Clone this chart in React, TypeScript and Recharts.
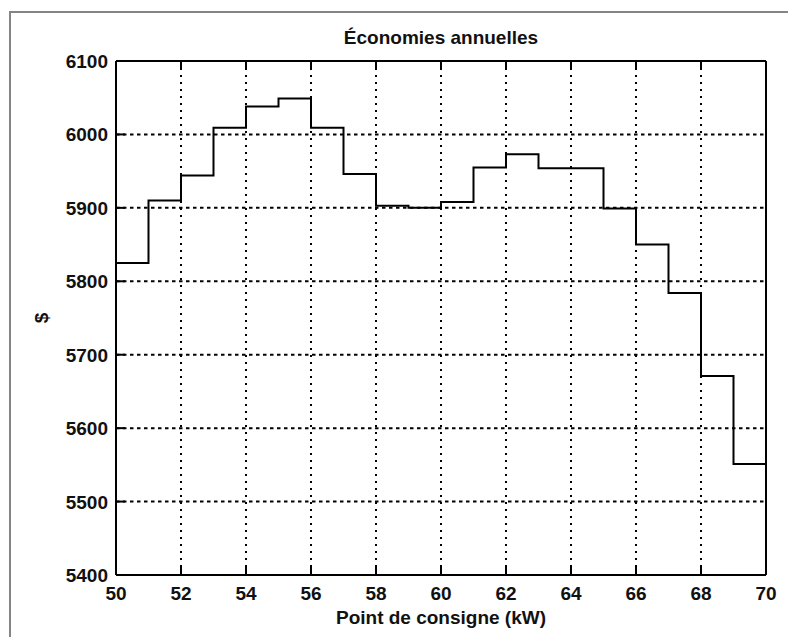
import { CartesianGrid, Line, LineChart, XAxis, YAxis } from "recharts";

const setpoints = [50, 51, 52, 53, 54, 55, 56, 57, 58, 59, 60, 61, 62, 63, 64, 65, 66, 67, 68, 69, 70];
const savings = [
  5825, 5910, 5944, 6009, 6038, 6049, 6009, 5946, 5903, 5900, 5908, 5955, 5973, 5954, 5954, 5899,
  5850, 5784, 5671, 5551, 5551
];
const xTicks = [50, 52, 54, 56, 58, 60, 62, 64, 66, 68, 70];
const yTicks = [5400, 5500, 5600, 5700, 5800, 5900, 6000, 6100];

const title = "Économies annuelles";
const xLabel = "Point de consigne (kW)";
const yLabel = "$";

const data = setpoints.map((x, i) => ({ x, value: savings[i] }));

const font = "'Liberation Sans', Arial, Helvetica, sans-serif";
const TICK = 9;
const textStyle = { fontFamily: font, fontSize: 19, fontWeight: 700, fill: "#111" } as const;

function BottomTick(props: any) {
  const { x, y, payload } = props;
  return (
    <g>
      <line x1={x} x2={x} y1={y} y2={y - TICK} stroke="#000" strokeWidth={2} />
      <text x={x} y={y + 25} textAnchor="middle" style={textStyle}>
        {payload.value}
      </text>
    </g>
  );
}

function LeftTick(props: any) {
  const { x, y, payload } = props;
  return (
    <g>
      <line x1={x} x2={x + TICK} y1={y} y2={y} stroke="#000" strokeWidth={2} />
      <text x={x - 8} y={y + 7} textAnchor="end" style={textStyle}>
        {payload.value}
      </text>
    </g>
  );
}

function TopTick(props: any) {
  const { x, y } = props;
  return <line x1={x} x2={x} y1={y} y2={y + TICK} stroke="#000" strokeWidth={2} />;
}

function RightTick(props: any) {
  const { x, y } = props;
  return <line x1={x} x2={x - TICK} y1={y} y2={y} stroke="#000" strokeWidth={2} />;
}

export default function App() {
  return (
    <div
      style={{
        position: "absolute",
        left: 0,
        top: 0,
        width: 788,
        height: 637,
        background: "#fff",
        fontFamily: font,
        overflow: "hidden"
      }}
    >
      <div
        style={{
          position: "absolute",
          left: 9,
          top: 11,
          width: 800,
          height: 640,
          borderTop: "2px solid #858585",
          borderLeft: "2px solid #858585"
        }}
      />
      <div
        style={{
          position: "absolute",
          left: 116,
          width: 650,
          top: 27,
          height: 22,
          lineHeight: "22px",
          textAlign: "center",
          fontSize: 19,
          fontWeight: 700,
          color: "#111"
        }}
      >
        {title}
      </div>
      <div
        style={{
          position: "absolute",
          left: 116,
          width: 650,
          top: 607,
          height: 22,
          lineHeight: "22px",
          textAlign: "center",
          fontSize: 19,
          fontWeight: 700,
          color: "#111"
        }}
      >
        {xLabel}
      </div>
      <div
        style={{
          position: "absolute",
          left: 42,
          top: 318,
          transform: "translate(-50%, -50%) rotate(-90deg)",
          fontSize: 19,
          fontWeight: 700,
          color: "#111",
          lineHeight: "22px"
        }}
      >
        {yLabel}
      </div>
      <div style={{ position: "absolute", left: 0, top: 0 }}>
        <LineChart width={788} height={637} data={data} margin={{ top: 60, right: 21, left: 0, bottom: 0 }}>
          <CartesianGrid
            horizontal={false}
            stroke="#000"
            strokeWidth={2}
            strokeDasharray="2 5"
          />
          <CartesianGrid
            vertical={false}
            stroke="#000"
            strokeWidth={2}
            strokeDasharray="3.5 3.5"
          />
          <XAxis
            dataKey="x"
            type="number"
            domain={[50, 70]}
            ticks={xTicks}
            interval={0}
            height={62}
            tickSize={0}
            tickMargin={0}
            tick={<BottomTick />}
            axisLine={{ stroke: "#000", strokeWidth: 2 }}
          />
          <XAxis
            xAxisId="top"
            dataKey="x"
            type="number"
            orientation="top"
            domain={[50, 70]}
            ticks={xTicks}
            interval={0}
            height={1}
            tickSize={0}
            tickMargin={0}
            tick={<TopTick />}
            axisLine={{ stroke: "#000", strokeWidth: 2 }}
          />
          <YAxis
            type="number"
            domain={[5400, 6100]}
            ticks={yTicks}
            interval={0}
            width={116}
            tickSize={0}
            tickMargin={0}
            tick={<LeftTick />}
            axisLine={{ stroke: "#000", strokeWidth: 2 }}
          />
          <YAxis
            yAxisId="right"
            type="number"
            orientation="right"
            domain={[5400, 6100]}
            ticks={yTicks}
            interval={0}
            width={1}
            tickSize={0}
            tickMargin={0}
            tick={<RightTick />}
            axisLine={{ stroke: "#000", strokeWidth: 2 }}
          />
          <Line
            type="stepAfter"
            dataKey="value"
            stroke="#000"
            strokeWidth={2}
            dot={false}
            activeDot={false}
            isAnimationActive={false}
          />
        </LineChart>
      </div>
    </div>
  );
}
